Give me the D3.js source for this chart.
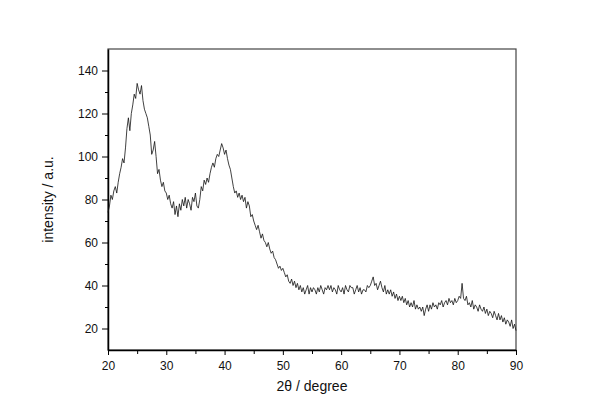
<!DOCTYPE html>
<html>
<head>
<meta charset="utf-8">
<script src="https://cdn.jsdelivr.net/npm/d3@7"></script>
<style>
  body { margin: 0; background: #fff; }
  svg { font-family: "Liberation Sans", Arial, sans-serif; }
</style>
</head>
<body>
<div id="chart"></div>
<script>
// diffraction pattern, 0.25 degree steps from 20 to 90
var startAngle = 20, stepAngle = 0.25;
var intensity = [
  74, 77, 82, 80,   84, 86, 83, 88,   92, 95, 99, 97,   104, 113, 118, 112,
  120, 124, 129, 127, 134, 131, 129, 133, 126, 122, 120, 118, 114, 110, 101, 103,
  107, 100, 92, 94,  89, 86, 88, 84,   83, 80, 82, 78,   76, 79, 73, 77,
  72, 78, 75, 80,   77, 81, 76, 80,   78, 75, 81, 79,   83, 77, 76, 80,
  86, 84, 89, 87,   90, 88, 92, 95,   97, 95, 99, 101,  100, 103, 106, 104,
  101, 103, 99, 96, 94, 90, 86, 83,   84, 81, 83, 80,   82, 79, 81, 76,
  79, 77, 72, 73,   70, 68, 66, 68,   65, 62, 64, 61,   60, 58, 60, 57,
  55, 56, 53, 52,   50, 48, 49, 47,   48, 46, 44, 45,   42, 41, 43, 40,
  42, 39, 41, 38,   40, 37, 39, 36,   38, 40, 36, 39,   37, 39, 38, 36,
  39, 37, 40, 38,   36, 39, 38, 40,   38, 40, 37, 39,   38, 36, 40, 38,
  37, 39, 36, 40,   38, 37, 40, 39,   39, 36, 38, 40,   37, 39, 36, 38,
  38, 37, 40, 39,   40, 42, 44, 40,   41, 38, 40, 42,   39, 37, 40, 36,
  38, 36, 38, 35,   37, 34, 36, 33,   35, 33, 35, 32,   34, 31, 33, 30,
  32, 30, 33, 29,   31, 29, 30, 28,   30, 26, 29, 31,   28, 31, 29, 32,
  30, 31, 29, 32,   31, 33, 30, 32,   33, 31, 34, 32,   33, 31, 34, 32,
  33, 35, 34, 41,   34, 33, 35, 31,   32, 30, 33, 29,   31, 30, 28, 31,
  29, 28, 30, 27,   29, 26, 28, 27,   25, 28, 26, 24,   27, 24, 26, 23,
  25, 22, 24, 23,   21, 24, 20, 22,   19
];
var xTicks = [20, 30, 40, 50, 60, 70, 80, 90];
var xMinorTicks = [25, 35, 45, 55, 65, 75, 85];
var yTicks = [20, 40, 60, 80, 100, 120, 140];
var yMinorTicks = [30, 50, 70, 90, 110, 130];

var data = intensity.map(function(v, i) {
  return { angle: startAngle + i * stepAngle, value: v };
});

var WIDTH = 600, HEIGHT = 420;
var margin = { top: 49, right: 84, bottom: 70, left: 108 };
var width = WIDTH - margin.left - margin.right,
    height = HEIGHT - margin.top - margin.bottom;

var svg = d3.select("#chart").append("svg")
    .attr("width", WIDTH)
    .attr("height", HEIGHT);

var g = svg.append("g")
    .attr("transform", "translate(" + margin.left + "," + margin.top + ")");

var x = d3.scaleLinear().domain([20, 90]).range([0, width]);
var y = d3.scaleLinear().domain([10, 150]).range([height, 0]);

// frame
g.append("rect")
    .attr("width", width)
    .attr("height", height)
    .attr("fill", "none")
    .attr("stroke", "#444")
    .attr("stroke-width", 1.2);

// minor ticks first, then major with labels
g.append("g")
    .attr("transform", "translate(0," + height + ")")
    .call(d3.axisBottom(x).tickValues(xMinorTicks).tickSize(4).tickFormat(""))
    .call(function(a) { a.select(".domain").remove(); });

g.append("g")
    .attr("class", "x axis")
    .attr("transform", "translate(0," + height + ")")
    .call(d3.axisBottom(x).tickValues(xTicks).tickSize(5).tickPadding(6).tickSizeOuter(0));

g.append("g")
    .call(d3.axisLeft(y).tickValues(yMinorTicks).tickSize(3).tickFormat(""))
    .call(function(a) { a.select(".domain").remove(); });

g.append("g")
    .attr("class", "y axis")
    .call(d3.axisLeft(y).tickValues(yTicks).tickSize(6).tickPadding(4).tickSizeOuter(0));

svg.selectAll(".axis .domain").attr("stroke", "#000").attr("stroke-width", 1.5);
svg.selectAll(".tick line").attr("stroke", "#000").attr("stroke-width", 1);
svg.selectAll(".axis text")
    .attr("font-family", "'Liberation Sans', Arial, sans-serif")
    .attr("font-size", 12)
    .attr("fill", "#111");

// the pattern itself
var line = d3.line()
    .x(function(d) { return x(d.angle); })
    .y(function(d) { return y(d.value); });

g.append("path")
    .datum(data)
    .attr("fill", "none")
    .attr("stroke", "#111")
    .attr("stroke-width", 0.8)
    .attr("d", line);

// titles
svg.append("text")
    .attr("x", margin.left + width / 2)
    .attr("y", 391)
    .attr("text-anchor", "middle")
    .attr("font-size", 14)
    .attr("fill", "#111")
    .text("2\u03B8 / degree");

svg.append("text")
    .attr("transform", "translate(53," + (margin.top + height / 2) + ") rotate(-90)")
    .attr("text-anchor", "middle")
    .attr("font-size", 14)
    .attr("fill", "#111")
    .text("intensity / a.u.");
</script>
</body>
</html>
